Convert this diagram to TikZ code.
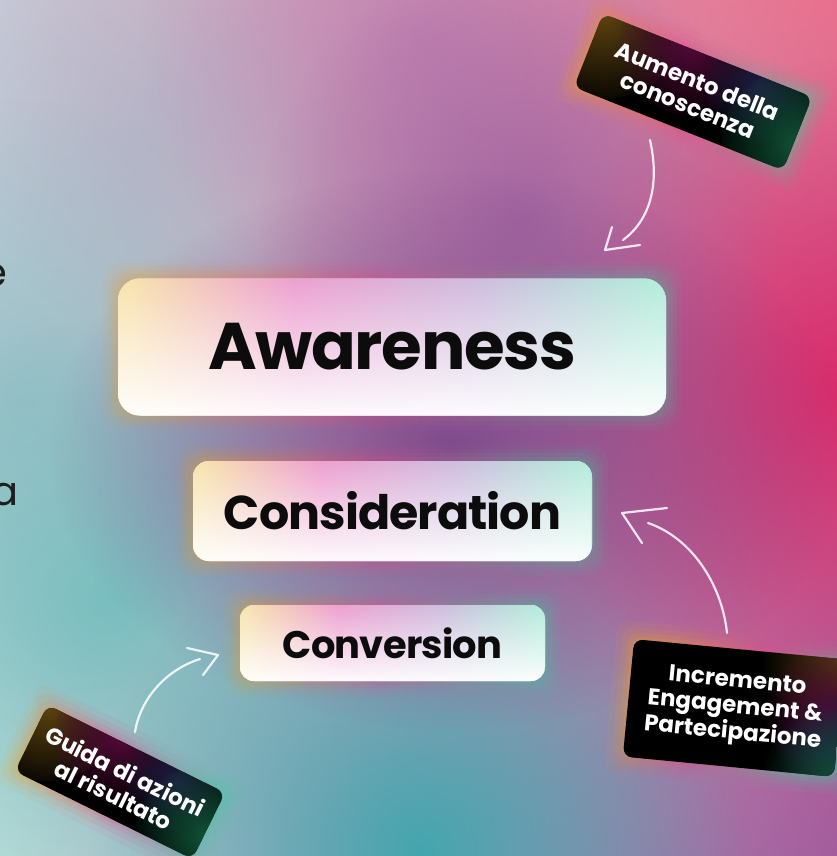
\documentclass[tikz,border=0pt]{standalone}
\usepackage{fontspec}
\setmainfont{Poppins}
\newfontfamily\tightpop{Poppins}[LetterSpace=-2]
\usetikzlibrary{fadings,shadings}
\definecolor{bgUL}{HTML}{C6C8D6}
\definecolor{bgUR}{HTML}{E8708E}
\definecolor{bgLL}{HTML}{B2DAD6}
\definecolor{bgLR}{HTML}{A45C9C}
\definecolor{cMag}{HTML}{DA2C6C}
\definecolor{cPur}{HTML}{7C4689}
\definecolor{cPur2}{HTML}{9A5C9E}
\definecolor{cTeal}{HTML}{44A6AE}
\definecolor{cTeal2}{HTML}{74BEBE}
\definecolor{cTeal3}{HTML}{90BCC4}
\definecolor{cMauve}{HTML}{B878B0}
\definecolor{cGrey}{HTML}{AEB2C6}
\definecolor{tY}{HTML}{F6DEA0}
\definecolor{tP}{HTML}{EA90C8}
\definecolor{tL}{HTML}{C6B2D8}
\definecolor{tM}{HTML}{A6E8D4}
\definecolor{gO}{HTML}{F2A020}
\definecolor{gP}{HTML}{E84A8A}
\definecolor{gG}{HTML}{40D0A0}
\definecolor{lO}{HTML}{5E4410}
\definecolor{lM}{HTML}{520A38}
\definecolor{lN}{HTML}{1E1E44}
\definecolor{lG}{HTML}{105236}
\definecolor{txtblack}{HTML}{0C0C0C}
\definecolor{lefttxt}{HTML}{1E1E1E}
\tikzfading[name=radfade, inner color=transparent!0, outer color=transparent!100]
\tikzfading[name=whitebot, top color=transparent!85, bottom color=transparent!4]
\pgfdeclarehorizontalshading{boxtint}{100bp}{color(0bp)=(tY); color(26bp)=(tY); color(41bp)=(tP); color(58bp)=(tL); color(74bp)=(tM); color(100bp)=(tM)}
\pgfdeclarehorizontalshading{glowsh}{100bp}{color(0bp)=(gO); color(28bp)=(gO); color(48bp)=(gP); color(72bp)=(gG); color(100bp)=(gG)}
\tikzset{
  mainbox/.style={inner sep=0pt, fill=white, text=txtblack,
    path picture={
      \shade[shading=boxtint] (path picture bounding box.south west) rectangle (path picture bounding box.north east);
      \fill[white, path fading=whitebot] (path picture bounding box.south west) rectangle (path picture bounding box.north east);
    }},
  labeltext/.style={text=white, font=\bfseries\fontsize{23}{26}\selectfont, align=center, transform shape, inner sep=0pt},
  lefttext/.style={text=lefttxt, font=\fontsize{40}{44}\selectfont, inner sep=0pt, anchor=base east},
  arr/.style={draw=white, draw opacity=0.85, line width=2.2pt, line cap=round, line join=round},
}
\begin{document}
\begin{tikzpicture}[x=1pt, y=-1pt]
\useasboundingbox (0,0) rectangle (837,856);
\clip (0,0) rectangle (837,856);
% background
\shade[upper left=bgUL, upper right=bgUR, lower left=bgLL, lower right=bgLR] (0,0) rectangle (837,856);
\fill[cGrey, path fading=radfade, fill opacity=.7] (150,130) circle (200);
\fill[cMauve, path fading=radfade, fill opacity=.7] (420,40) circle (280);
\fill[cTeal3, path fading=radfade, fill opacity=.8] (20,400) circle (300);
\fill[cTeal2, path fading=radfade, fill opacity=.9] (110,600) circle (280);
\fill[cTeal, path fading=radfade] (420,850) circle (330);
\fill[cMag, path fading=radfade] (840,390) circle (330);
\fill[cPur2, path fading=radfade, fill opacity=.8] (520,220) circle (260);
\fill[cPur, path fading=radfade, fill opacity=.95] (450,450) ellipse (400 and 280);

% left cut text
\node[lefttext] (le) at (8,286) {e};
\node[lefttext] (la) at (19,505) {a};

% glows of main boxes
\foreach \k/\o in {16/0.06, 11/0.08, 7/0.10, 3/0.12} {
  \shade[shading=glowsh, fill opacity=\o, rounded corners=22pt] (118-\k,277-\k) rectangle (666+\k,414+\k);
  \shade[shading=glowsh, fill opacity=\o, rounded corners=18pt] (193-\k,460-\k) rectangle (592+\k,560+\k);
  \shade[shading=glowsh, fill opacity=\o, rounded corners=16pt] (240-\k,605-\k) rectangle (545+\k,681+\k);
}

% main boxes
\node[mainbox, minimum width=548pt, minimum height=137pt, rounded corners=22pt, font=\tightpop\bfseries\fontsize{66}{70}\selectfont] (aw) at (392,347) {Awareness};
\node[mainbox, minimum width=399pt, minimum height=100pt, rounded corners=16pt, font=\tightpop\bfseries\fontsize{47.5}{52}\selectfont] (co) at (392.5,511) {Consideration};
\node[mainbox, minimum width=305pt, minimum height=76pt, rounded corners=14pt, font=\tightpop\bfseries\fontsize{38.4}{42}\selectfont] (cv) at (392.5,643) {Conversion};

% label 1
\begin{scope}[shift={(693,92)}, rotate=-21.7]
  \foreach \k/\o in {18/0.08, 12/0.11, 7/0.14, 3/0.18} {
    \shade[shading=glowsh, fill opacity=\o, rounded corners=12pt] (-112.5-\k,-39.5-\k) rectangle (112.5+\k,39.5+\k);
  }
  \begin{scope}
    \clip[rounded corners=9pt] (-112.5,-39.5) rectangle (112.5,39.5);
    \fill[black] (-130,-60) rectangle (130,60);
    \fill[lO, path fading=radfade] (-112,-40) circle (85);
    \fill[lM, path fading=radfade] (-20,-42) circle (70);
    \fill[lN, path fading=radfade] (60,-30) circle (55);
    \fill[lG, path fading=radfade] (115,10) circle (75);
  \end{scope}
  \node[labeltext] (l1) at (0,1) {Aumento della\\conoscenza};
\end{scope}

% label 2
\begin{scope}[shift={(734,708)}, rotate=-5.5]
  \foreach \k/\o in {18/0.08, 12/0.11, 7/0.14, 3/0.18} {
    \shade[shading=glowsh, shading angle=-35, fill opacity=\o, rounded corners=12pt] (-106-\k,-59-\k) rectangle (106+\k,59+\k);
  }
  \begin{scope}
    \clip[rounded corners=9pt] (-106,-59) rectangle (106,59);
    \fill[black] (-130,-80) rectangle (130,80);
    \fill[lO, path fading=radfade] (110,-60) circle (85);
    \fill[lM, path fading=radfade] (95,-5) circle (65);
    \fill[lN, path fading=radfade] (100,30) circle (55);
    \fill[lG, path fading=radfade] (110,65) circle (75);
  \end{scope}
  \node[labeltext] (l2) at (1,0) {Incremento\\Engagement \&\\Partecipazione};
\end{scope}

% label 3
\begin{scope}[shift={(120,782)}, rotate=-26.3]
  \foreach \k/\o in {18/0.08, 12/0.11, 7/0.14, 3/0.18} {
    \shade[shading=glowsh, fill opacity=\o, rounded corners=12pt] (-99-\k,-37-\k) rectangle (99+\k,37+\k);
  }
  \begin{scope}
    \clip[rounded corners=9pt] (-99,-37) rectangle (99,37);
    \fill[black] (-120,-60) rectangle (120,60);
    \fill[lO, path fading=radfade] (-99,-36) circle (75);
    \fill[lM, path fading=radfade] (-20,-40) circle (65);
    \fill[lN, path fading=radfade] (50,-25) circle (50);
    \fill[lG, path fading=radfade] (100,10) circle (70);
  \end{scope}
  \node[labeltext] (l3) at (0,1) {Guida di azioni\\al risultato};
\end{scope}

% arrows
\coordinate (a1s) at (650,140);
\coordinate (a1e) at (623,240);
\coordinate (a1t) at (605,250);
\coordinate (a1p) at (612,227);
\coordinate (a1q) at (640,245);
\draw[arr] (a1s) .. controls (660,185) and (650,220) .. (a1e);
\draw[arr] (a1p) -- (a1t) -- (a1q);

\coordinate (a2s) at (727,633);
\coordinate (a2e) at (648,523);
\coordinate (a2t) at (622,513);
\coordinate (a2p) at (667,508);
\coordinate (a2q) at (642,543);
\draw[arr] (a2s) .. controls (722,585) and (692,538) .. (a2e);
\draw[arr] (a2p) -- (a2t) -- (a2q);

\coordinate (a3s) at (135,732);
\coordinate (a3e) at (200,659);
\coordinate (a3t) at (218,655);
\coordinate (a3p) at (187,648);
\coordinate (a3q) at (203,675);
\draw[arr] (a3s) .. controls (140,700) and (165,670) .. (a3e);
\draw[arr] (a3p) -- (a3t) -- (a3q);
\end{tikzpicture}
\end{document}
